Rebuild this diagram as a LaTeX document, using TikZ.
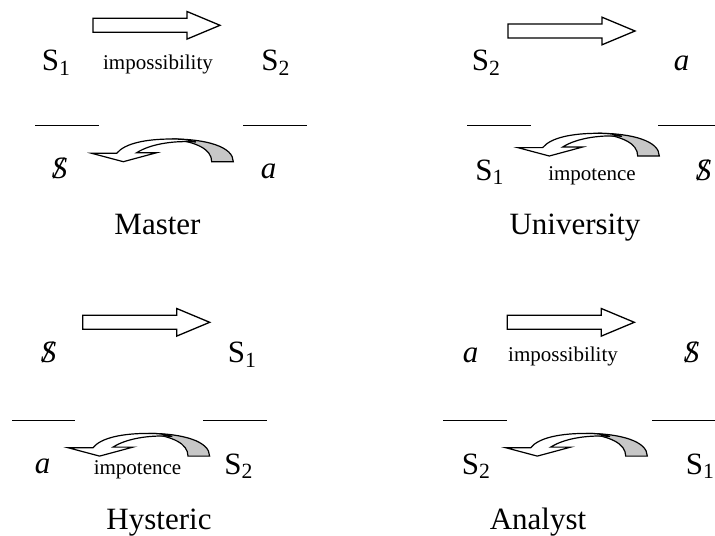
\documentclass[tikz,border=0pt]{standalone}
\usepackage{fontspec}
\setmainfont{Liberation Serif}
\usepackage{tikz}
\usetikzlibrary{positioning}

\newcommand{\barS}{\ooalign{\textit{S}\cr\hidewidth\textit{/}\hidewidth\cr}}

\begin{document}
\begin{tikzpicture}[
  x=0.5pt, y={(0pt,-0.5pt)},
  every node/.style = {inner sep=0pt, anchor=base, font=\fontsize{15.5}{18}\selectfont},
  small/.style = {font=\fontsize{10.5}{12}\selectfont},
  bar/.style   = {line width=0.5pt},
  blockarr/.pic = {
    \draw[line width=0.65pt, fill=white] (0,-7) -- (94,-7) -- (94,-13.8) -- (127,0)
      -- (94,13.8) -- (94,7) -- (0,7) -- cycle;
  },
  twistarr/.pic = {
    \filldraw[fill=black!22, line width=0.6pt] (119.7,22.7) -- (141.3,22.7)
      .. controls (141.3,8) and (115,0) .. (80,0)
      .. controls (104,3) and (119.7,10) .. (119.7,22.7) -- cycle;
    \filldraw[fill=white, line width=0.6pt] (44.7,13.7) -- (64.7,13.7) -- (31.3,22.7)
      -- (-0.3,14.3) -- (24.7,14.3)
      .. controls (33,4) and (55,0) .. (80,0)
      .. controls (90,0) and (98,1) .. (104,3)
      .. controls (85,1.5) and (60,4) .. (44.7,13.7) -- cycle;
  },
]
\useasboundingbox (0,0) rectangle (715,535);

% Master
\pic at (93,25.3) {blockarr};
\node (ms1) at (56.5,70.7) {S\textsubscript{1}};
\node[small] (mimp) at (158,69) {impossibility};
\node (ms2) at (276,70.7) {S\textsubscript{2}};
\draw[bar] (35,125.7) -- (99,125.7);
\draw[bar] (243,125.7) -- (307,125.7);
\node (mbs) at (59.5,178) {\barS};
\node (ma) at (268.5,178) {\textit{a}};
\pic at (92,139) {twistarr};
\node (mlab) at (157.5,234) {Master};

% University
\pic at (508,31) {blockarr};
\node (us2) at (486.5,70.7) {S\textsubscript{2}};
\node (ua) at (681.5,70.7) {\textit{a}};
\draw[bar] (467,125.7) -- (531,125.7);
\draw[bar] (658,125.7) -- (722,125.7);
\node (us1) at (490,180) {S\textsubscript{1}};
\node[small] (uimp) at (592,180) {impotence};
\node (ubs) at (703.5,180) {\barS};
\pic at (518,133.3) {twistarr};
\node (ulab) at (575,234) {University};

% Hysteric
\pic at (82.7,322.3) {blockarr};
\node (hbs) at (48.5,362.7) {\barS};
\node (hs1) at (242.5,362.7) {S\textsubscript{1}};
\draw[bar] (12,420.7) -- (75,420.7);
\draw[bar] (203,420.7) -- (267,420.7);
\node (ha) at (42.5,473) {\textit{a}};
\node[small] (himp) at (137.5,474) {impotence};
\node (hs2) at (239,474) {S\textsubscript{2}};
\pic at (68.3,433.4) {twistarr};
\node (hlab) at (159,529) {Hysteric};

% Analyst
\pic at (507.3,322.3) {blockarr};
\node (aa) at (470.5,362.7) {\textit{a}};
\node[small] (aimp) at (563,361) {impossibility};
\node (abs) at (691.5,362.7) {\barS};
\draw[bar] (443,420.7) -- (507,420.7);
\draw[bar] (652,420.7) -- (716,420.7);
\node (as2) at (476.5,474) {S\textsubscript{2}};
\node (as1) at (700.5,474) {S\textsubscript{1}};
\pic at (506,433.4) {twistarr};
\node (alab) at (538,529) {Analyst};
\end{tikzpicture}
\end{document}
